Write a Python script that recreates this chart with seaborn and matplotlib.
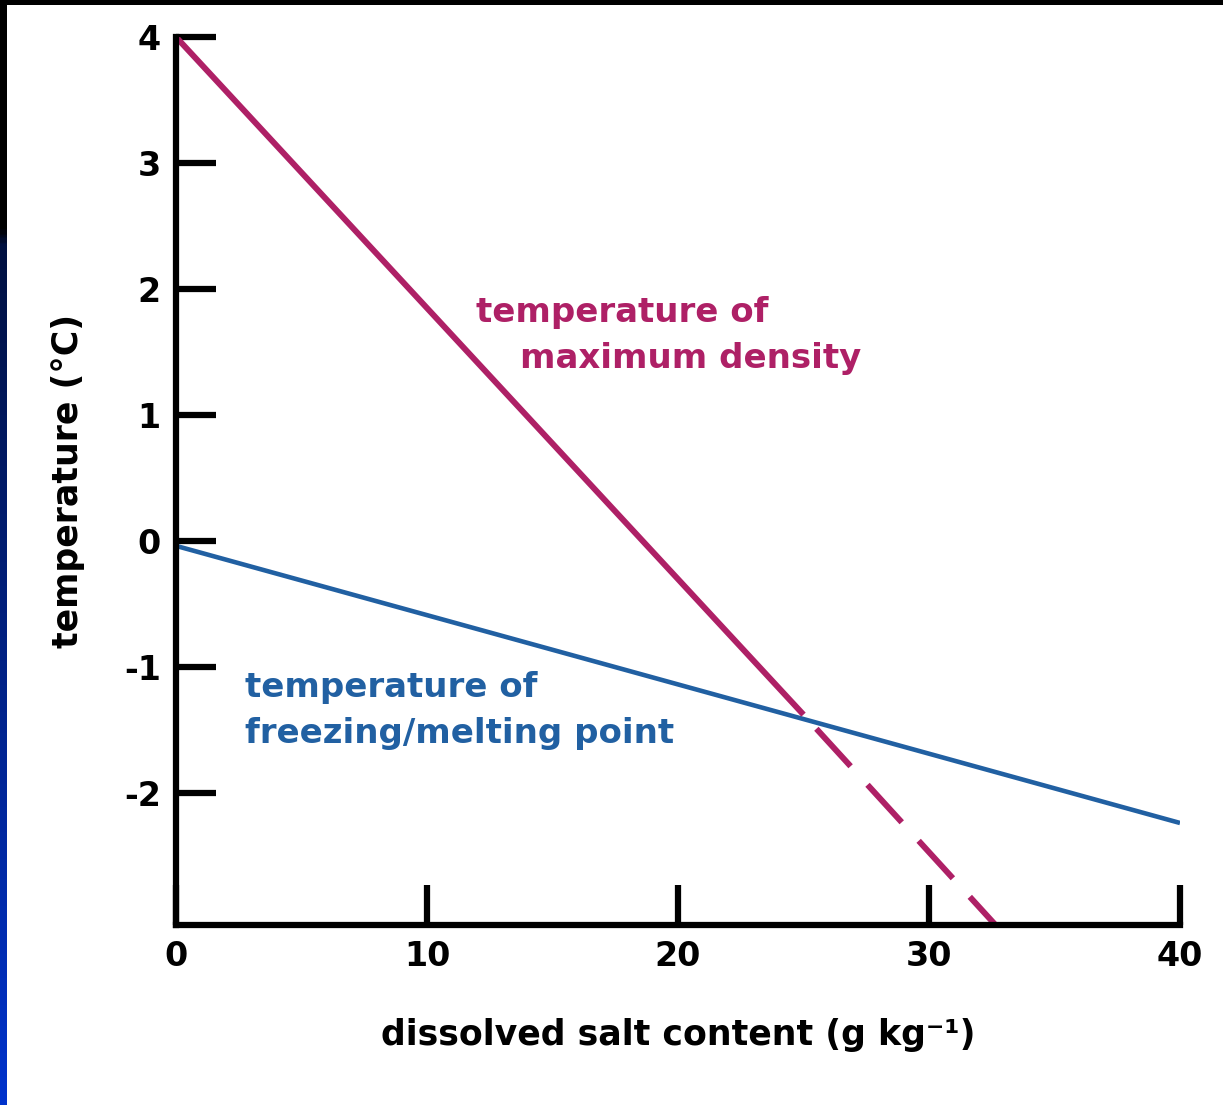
import matplotlib
matplotlib.use("Agg")
import matplotlib.pyplot as plt
import numpy as np
import seaborn as sns
from matplotlib.colors import LinearSegmentedColormap

# data
salt_max_solid = [0, 25]
temp_max_solid = [4.0, -1.38]
salt_max_dash = [25, 33.2]
temp_max_dash = [-1.38, -3.17]
salt_freeze = [0, 40]
temp_freeze = [-0.04, -2.24]

xticks = [0, 10, 20, 30, 40]
yticks = [-2, -1, 0, 1, 2, 3, 4]

red = "#AE2066"
blue = "#2160A2"

sns.set_style("white")
plt.rcParams['font.family'] = ['DejaVu Sans']
plt.rcParams['font.weight'] = 'bold'
plt.rcParams['axes.unicode_minus'] = False
plt.rcParams['axes.labelcolor'] = 'black'

W, H = 1223, 1105
fig = plt.figure(figsize=(W / 100, H / 100), dpi=100)
fig.patch.set_facecolor("white")

# slide frame: black bar on top, dark-to-blue strip on the left
strip = fig.add_axes([0, 0, 7 / W, 1])
grad = np.linspace(0, 1, 400).reshape(-1, 1)
cmap = LinearSegmentedColormap.from_list(
    "frame", [(0, "#0033CC"), (0.78, "#001040"), (0.795, "black"), (1, "black")])
strip.imshow(grad, aspect="auto", cmap=cmap, origin="lower", extent=(0, 1, 0, 1))
strip.axis("off")
fig.patches.append(plt.Rectangle((0, 1 - 5 / H), 1, 5 / H, transform=fig.transFigure,
                                 facecolor="black", edgecolor="none", zorder=10))

ax = fig.add_axes([176 / W, 1 - 925 / H, (1180 - 176) / W, (925 - 37) / H])

sns.lineplot(x=salt_freeze, y=temp_freeze, ax=ax, color=blue, linewidth=3.3)
sns.lineplot(x=salt_max_solid, y=temp_max_solid, ax=ax, color=red, linewidth=4.3)
# dashed part starts with a gap right after the crossing
sns.lineplot(x=salt_max_dash, y=temp_max_dash, ax=ax, color=red, linewidth=4.3,
             linestyle=(9.5, (8.5, 4.2)))
for l in ax.lines:
    l.set_solid_capstyle("butt")
    l.set_dash_capstyle("butt")

ax.set_xlim(0, 40)
ax.set_ylim(-3.05, 4)
ax.set_xticks(xticks)
ax.set_yticks(yticks)
ax.tick_params(bottom=True, left=True, direction="in", length=29, width=4.5,
               labelsize=24, pad=11, colors="black")
for s in ["top", "right"]:
    ax.spines[s].set_visible(False)
for s in ["left", "bottom"]:
    ax.spines[s].set_linewidth(4.5)
    ax.spines[s].set_color("black")

ax.set_xlabel("dissolved salt content (g kg\u207b\u00b9)", fontsize=25, fontweight="bold",
              labelpad=32, color="black")
ax.set_ylabel("temperature (\u00b0C)", fontsize=25, fontweight="bold", labelpad=28,
              color="black")

ax.text(11.95, 1.74, "temperature of", color=red, fontsize=24.5, fontweight="bold", va="baseline")
ax.text(13.7, 1.37, "maximum density", color=red, fontsize=24.5, fontweight="bold", va="baseline")
ax.text(2.75, -1.24, "temperature of", color=blue, fontsize=24.5, fontweight="bold", va="baseline")
ax.text(2.75, -1.605, "freezing/melting point", color=blue, fontsize=24.5, fontweight="bold", va="baseline")

fig.savefig("out.png", dpi=100)
